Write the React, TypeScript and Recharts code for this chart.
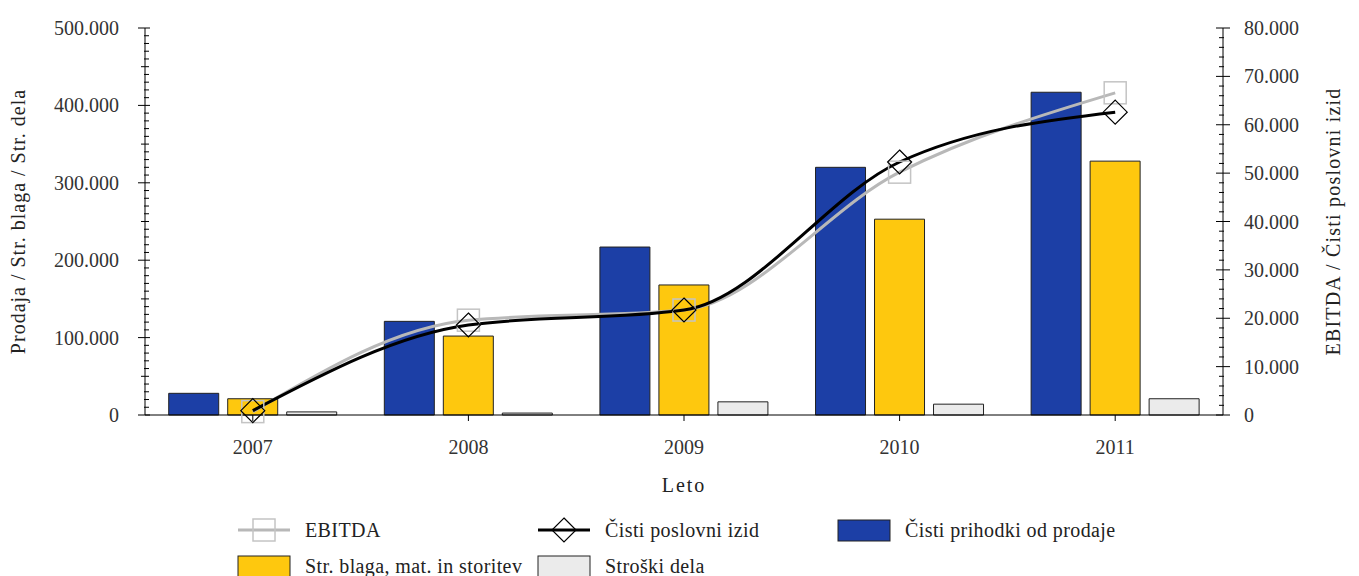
import { ComposedChart, Bar, Line, XAxis, YAxis, Legend } from "recharts";

const years = ["2007", "2008", "2009", "2010", "2011"];
const prihodki = [28000, 121000, 217000, 320000, 417000];
const blago = [21000, 102000, 168000, 253000, 328000];
const delo = [4000, 2500, 17000, 14000, 21000];
const ebitda = [700, 19600, 21700, 50200, 66600];
const izid = [900, 18600, 21700, 52300, 62600];

const leftTicks = Array.from({ length: 51 }, (_, i) => i * 10000);
const rightTicks = Array.from({ length: 41 }, (_, i) => i * 2000);

const data = years.map((year, i) => ({
  year,
  prihodki: prihodki[i],
  blago: blago[i],
  delo: delo[i],
  ebitda: ebitda[i],
  izid: izid[i],
}));

const FONT = "'Liberation Serif', 'DejaVu Serif', serif";
const W = 1351;
const H = 568;
const AXIS_L = 137;
const AXIS_R = 1215;

const fmt = (v: number) => (v === 0 ? "0" : v.toLocaleString("de-DE"));

const LeftTick = (props: any) => {
  const { y, payload } = props;
  const v = payload.value;
  const major = v % 100000 === 0;
  const mid = v % 50000 === 0;
  return (
    <g>
      <line
        x1={AXIS_L - (major ? 7 : mid ? 4 : 1)}
        x2={AXIS_L + (major ? 5 : 4)}
        y1={y}
        y2={y}
        stroke="#000"
      />
      {major && (
        <text x={AXIS_L - 26} y={y} dy="0.35em" textAnchor="end" fontSize={20} fill="#333" fontFamily={FONT}>
          {fmt(v)}
        </text>
      )}
    </g>
  );
};

const RightTick = (props: any) => {
  const { y, payload } = props;
  const v = payload.value;
  const major = v % 10000 === 0;
  const mid = v % 5000 === 0;
  return (
    <g>
      <line
        x1={AXIS_R - (major ? 7 : mid ? 5 : 4)}
        x2={AXIS_R + (major ? 7 : mid ? 3 : 1)}
        y1={y}
        y2={y}
        stroke="#000"
      />
      {major && (
        <text x={AXIS_R + 21} y={y} dy="0.35em" textAnchor="start" fontSize={20} fill="#333" fontFamily={FONT}>
          {fmt(v)}
        </text>
      )}
    </g>
  );
};

const SquareDot = (p: any) => (
  <rect key={`s${p.index}`} x={p.cx - 11} y={p.cy - 11} width={22} height={22} fill="none" stroke="#c4c4c4" strokeWidth={1.5} />
);

const DiamondDot = (p: any) => (
  <path
    key={`d${p.index}`}
    d={`M${p.cx},${p.cy - 12}L${p.cx + 12},${p.cy}L${p.cx},${p.cy + 12}L${p.cx - 12},${p.cy}Z`}
    fill="none"
    stroke="#000"
    strokeWidth={1.2}
  />
);

const legendItems = [
  { label: "EBITDA", kind: "ebitda", x: 230, y: 22 },
  { label: "Čisti poslovni izid", kind: "izid", x: 530, y: 22 },
  { label: "Čisti prihodki od prodaje", kind: "#1c3fa6", x: 830, y: 22 },
  { label: "Str. blaga, mat. in storitev", kind: "#fec80e", x: 230, y: 58 },
  { label: "Stroški dela", kind: "#ebebeb", x: 530, y: 58 },
];

const LegendContent = () => (
  <svg width={W} height={68} style={{ display: "block" }}>
    {legendItems.map((it) => {
      const cx = it.x + 26;
      let icon;
      if (it.kind === "ebitda") {
        icon = (
          <g>
            <line x1={it.x} x2={it.x + 52} y1={it.y} y2={it.y} stroke="#b8b8b8" strokeWidth={3} />
            <rect x={cx - 11} y={it.y - 11} width={22} height={22} fill="none" stroke="#c4c4c4" strokeWidth={1.5} />
          </g>
        );
      } else if (it.kind === "izid") {
        icon = (
          <g>
            <line x1={it.x} x2={it.x + 52} y1={it.y} y2={it.y} stroke="#000" strokeWidth={3} />
            <path
              d={`M${cx},${it.y - 12}L${cx + 12},${it.y}L${cx},${it.y + 12}L${cx - 12},${it.y}Z`}
              fill="none"
              stroke="#000"
              strokeWidth={1.2}
            />
          </g>
        );
      } else {
        icon = <rect x={it.x} y={it.y - 10} width={52} height={21} fill={it.kind} stroke="#222" strokeWidth={1} />;
      }
      return (
        <g key={it.label}>
          {icon}
          <text x={it.x + 67} y={it.y} dy="0.35em" fontSize={20} fill="#222" fontFamily={FONT} letterSpacing={0.4}>
            {it.label}
          </text>
        </g>
      );
    })}
  </svg>
);

export default function App() {
  return (
    <ComposedChart
      width={W}
      height={H}
      data={data}
      margin={{ top: 20, right: 0, bottom: 71, left: 0 }}
      barCategoryGap="11%"
      barGap={9}
      style={{ fontFamily: FONT }}
    >
      <XAxis
        dataKey="year"
        height={90}
        stroke="#000"
        tickSize={6}
        tickMargin={19}
        tick={{ fontSize: 20, fill: "#333", fontFamily: FONT }}
        label={{
          value: "Leto",
          position: "insideBottom",
          offset: 13,
          fontSize: 20,
          fill: "#222",
          fontFamily: FONT,
          style: { letterSpacing: 2 },
        }}
      />
      <XAxis xAxisId="top" dataKey="year" orientation="top" mirror height={0} tick={false} tickSize={6} stroke="#000" />
      <YAxis
        yAxisId="left"
        width={AXIS_L}
        domain={[0, 500000]}
        ticks={leftTicks}
        interval={0}
        tickLine={false}
        tick={<LeftTick />}
        stroke="#000"
        label={{
          value: "Prodaja / Str. blaga / Str. dela",
          angle: -90,
          position: "insideLeft",
          offset: 10,
          fontSize: 20,
          fill: "#222",
          fontFamily: FONT,
          style: { textAnchor: "middle", letterSpacing: 1 },
        }}
      />
      <YAxis
        yAxisId="right"
        orientation="right"
        width={W - AXIS_R}
        domain={[0, 80000]}
        ticks={rightTicks}
        interval={0}
        tickLine={false}
        tick={<RightTick />}
        stroke="#000"
        label={{
          value: "EBITDA / Čisti poslovni izid",
          angle: -90,
          position: "insideRight",
          offset: 26,
          fontSize: 20,
          fill: "#222",
          fontFamily: FONT,
          style: { textAnchor: "middle", letterSpacing: 1.2 },
        }}
      />
      <Bar yAxisId="left" dataKey="prihodki" fill="#1c3fa6" stroke="#222" strokeWidth={1} isAnimationActive={false} />
      <Bar yAxisId="left" dataKey="blago" fill="#fec80e" stroke="#222" strokeWidth={1} isAnimationActive={false} />
      <Bar yAxisId="left" dataKey="delo" fill="#ebebeb" stroke="#222" strokeWidth={1} isAnimationActive={false} />
      <Line
        yAxisId="right"
        type="monotone"
        dataKey="ebitda"
        stroke="#b8b8b8"
        strokeWidth={3}
        dot={SquareDot}
        activeDot={false}
        isAnimationActive={false}
      />
      <Line
        yAxisId="right"
        type="monotone"
        dataKey="izid"
        stroke="#000"
        strokeWidth={3}
        dot={DiamondDot}
        activeDot={false}
        isAnimationActive={false}
      />
      <Legend
        verticalAlign="middle"
        align="center"
        content={<LegendContent />}
        wrapperStyle={{ top: 500, left: 0, width: W, height: 68 }}
      />
    </ComposedChart>
  );
}
